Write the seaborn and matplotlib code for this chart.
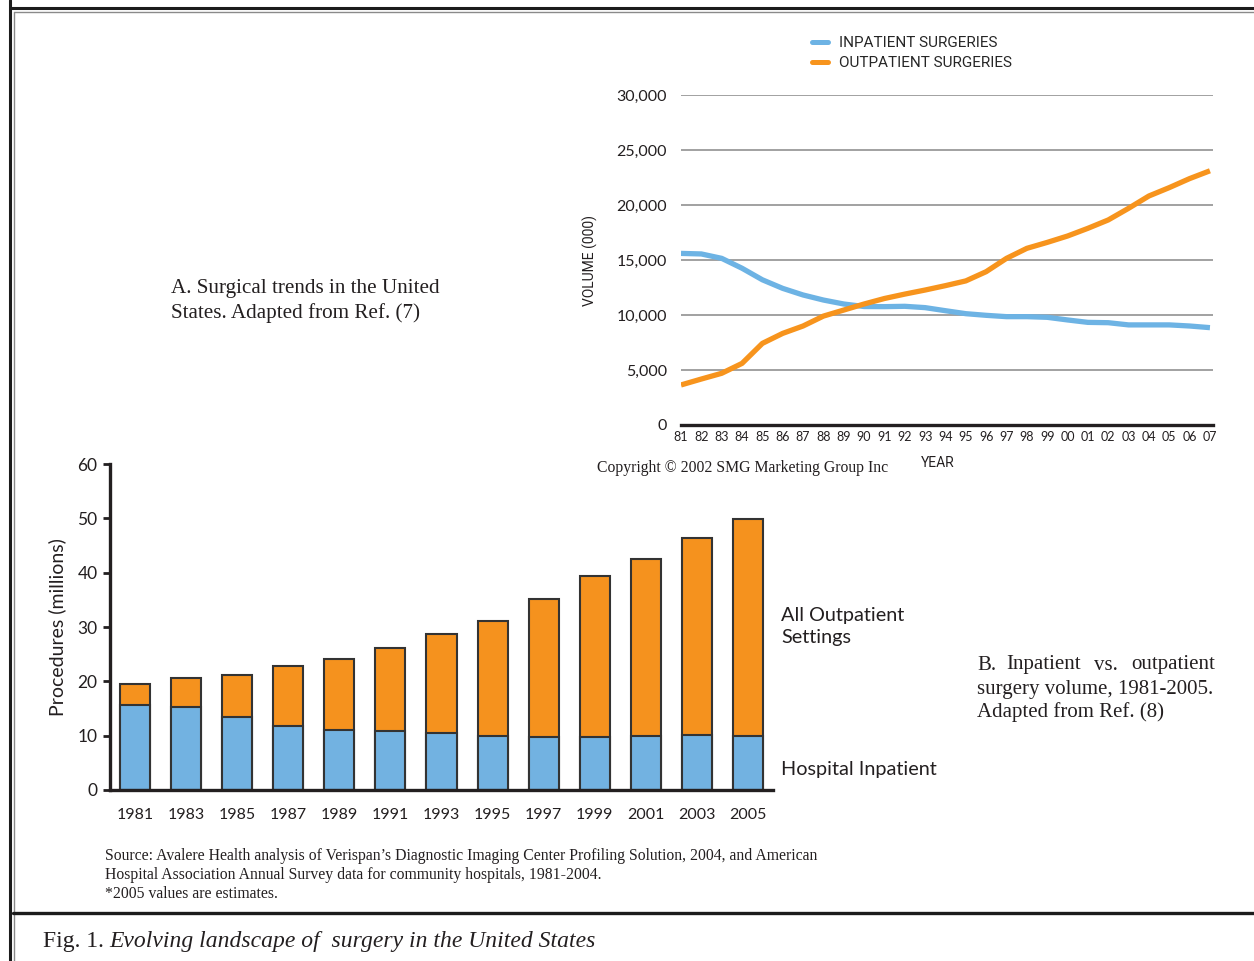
import numpy as np
import pandas as pd
import matplotlib
matplotlib.use("Agg")
import matplotlib.pyplot as plt
from matplotlib.lines import Line2D
import seaborn as sns

# ---- Panel B (top): surgery volume (thousands) by year ----
line_years = list(range(1981, 2008))
line_year_labels = ["81", "82", "83", "84", "85", "86", "87", "88", "89", "90",
                    "91", "92", "93", "94", "95", "96", "97", "98", "99", "00",
                    "01", "02", "03", "04", "05", "06", "07"]
inpatient_volume = [15600, 15550, 15150, 14250, 13200, 12420, 11820, 11360, 11000, 10770,
                    10760, 10790, 10670, 10390, 10120, 9970, 9850, 9850, 9790, 9550,
                    9330, 9300, 9100, 9100, 9100, 9000, 8850]
outpatient_volume = [3640, 4180, 4700, 5600, 7420, 8330, 9000, 9900, 10450, 11000,
                     11500, 11900, 12270, 12670, 13100, 13940, 15150, 16060, 16600, 17180,
                     17880, 18640, 19700, 20820, 21580, 22400, 23110]
line_ticks = [0, 5000, 10000, 15000, 20000, 25000, 30000]

# ---- Panel A (bottom): procedures (millions) by setting ----
bar_years = ["1981", "1983", "1985", "1987", "1989", "1991", "1993",
             "1995", "1997", "1999", "2001", "2003", "2005"]
hospital_inpatient = [15.7, 15.3, 13.4, 11.8, 11.0, 10.8, 10.4, 10.0, 9.8, 9.8, 10.0, 10.1, 10.0]
all_outpatient = [3.9, 5.25, 7.8, 11.1, 13.05, 15.4, 18.4, 21.1, 25.4, 29.5, 32.6, 36.3, 39.9]
bar_ticks = [0, 10, 20, 30, 40, 50, 60]

BLUE_LINE = "#6db3e4"
ORANGE_LINE = "#f7941d"
BLUE_BAR = "#72b2e1"
ORANGE_BAR = "#f5921e"
INK = "#231f20"

sns.set_theme(style="white")
plt.rcParams["font.family"] = ["Lato", "DejaVu Sans"]

W, H = 1254, 961
fig = plt.figure(figsize=(W / 100, H / 100), dpi=100)


def fx(x):
    return x / W


def fy(y):
    return 1 - y / H


def axes_rect(x0, y0, x1, y1):
    return [fx(x0), fy(y1), fx(x1) - fx(x0), fy(y0) - fy(y1)]


narrow = ["Liberation Sans Narrow", "Roboto", "DejaVu Sans"]
serif = ["Liberation Serif", "DejaVu Serif"]

# ---------------- line chart ----------------
axL = fig.add_axes(axes_rect(681, 95, 1213, 425))
df_line = pd.DataFrame({
    "year": line_years * 2,
    "volume": inpatient_volume + outpatient_volume,
    "series": ["INPATIENT SURGERIES"] * len(line_years) + ["OUTPATIENT SURGERIES"] * len(line_years),
})
for t in line_ticks[1:]:
    axL.axhline(t, color="#9a9a9a", lw=1.3, zorder=0)
sns.lineplot(data=df_line, x="year", y="volume", hue="series",
             palette={"INPATIENT SURGERIES": BLUE_LINE, "OUTPATIENT SURGERIES": ORANGE_LINE},
             lw=3.8, ax=axL, legend=False, sort=False,
             solid_joinstyle="round", solid_capstyle="butt")
axL.set_xlim(1981, 2007.15)
axL.set_ylim(0, 30000)
for s in ["top", "right", "left"]:
    axL.spines[s].set_visible(False)
axL.spines["bottom"].set_color(INK)
axL.spines["bottom"].set_linewidth(2.4)
axL.set_yticks(line_ticks)
axL.set_yticklabels([f"{v:,}" for v in line_ticks], fontsize=11.5, color=INK)
axL.set_xticks(line_years)
axL.set_xticklabels(line_year_labels, fontsize=9, color=INK)
axL.tick_params(axis="y", length=0, pad=10)
axL.tick_params(axis="x", length=0, pad=4)
axL.set_ylabel("VOLUME (000)", fontsize=10, family=narrow, color=INK)
axL.yaxis.set_label_coords((598 - 681) / 532, 0.5)
axL.set_xlabel("")
fig.text(fx(938), fy(463), "YEAR", fontsize=10, family=narrow, color=INK, ha="center", va="center")

handles = [Line2D([], [], color=BLUE_LINE, lw=3.6), Line2D([], [], color=ORANGE_LINE, lw=3.6)]
fig.legend(handles, ["INPATIENT SURGERIES", "OUTPATIENT SURGERIES"],
           loc="upper left", bbox_to_anchor=(fx(812), fy(36)), frameon=False,
           handlelength=1.05, handletextpad=0.7, labelspacing=0.42, borderpad=0,
           borderaxespad=0, prop={"family": narrow, "size": 11})

fig.text(fx(597), fy(468), "Copyright \u00a9 2002 SMG Marketing Group Inc",
         family=serif, fontsize=11.3, color=INK, ha="left", va="center")

# ---------------- stacked bar chart ----------------
axB = fig.add_axes(axes_rect(110, 464, 773, 790))
df_bar = pd.DataFrame({
    "year": bar_years,
    "inpatient": hospital_inpatient,
    "outpatient": all_outpatient,
})
df_bar["total"] = df_bar["inpatient"] + df_bar["outpatient"]
sns.barplot(data=df_bar, x="year", y="total", color=ORANGE_BAR, saturation=1,
            width=0.59, edgecolor="#333333", linewidth=1.5, ax=axB)
sns.barplot(data=df_bar, x="year", y="inpatient", color=BLUE_BAR, saturation=1,
            width=0.59, edgecolor="#333333", linewidth=1.5, ax=axB)
axB.set_ylim(0, 60)
axB.set_xlim(-0.49, 12.49)
for s in ["top", "right"]:
    axB.spines[s].set_visible(False)
for s in ["left", "bottom"]:
    axB.spines[s].set_color(INK)
    axB.spines[s].set_linewidth(2.4)
axB.set_yticks(bar_ticks)
axB.set_yticklabels([str(v) for v in bar_ticks], fontsize=12.5, color=INK)
axB.tick_params(axis="y", left=True, length=5, width=2, color=INK, pad=4, direction="out")
axB.tick_params(axis="x", length=0, pad=13, labelsize=11.5, labelcolor=INK)
axB.set_xlabel("")
axB.set_ylabel("Procedures (millions)", fontsize=14, color=INK)
axB.yaxis.set_label_coords((66 - 110) / 663, 0.5)

fig.text(fx(781), fy(626.5), "All Outpatient\nSettings", fontsize=14.3, color=INK,
         ha="left", va="center", linespacing=1.38)
fig.text(fx(781), fy(770), "Hospital Inpatient", fontsize=14.3, color=INK,
         ha="left", va="center")

# ---------------- panel captions ----------------
fig.text(fx(171), fy(301), "A. Surgical trends in the United\nStates. Adapted from Ref. (7)",
         family=serif, fontsize=15.2, color=INK, ha="left", va="center", linespacing=1.35)

capB_y = fy(665)
for word, xpos, ha in [("B.", 977, "left"), ("Inpatient", 1006, "left"),
                       ("vs.", 1094, "left"), ("outpatient", 1215, "right")]:
    fig.text(fx(xpos), capB_y, word, family=serif, fontsize=15, color=INK, ha=ha, va="center")
fig.text(fx(977), fy(701), "surgery volume, 1981-2005.\nAdapted from Ref. (8)",
         family=serif, fontsize=15, color=INK, ha="left", va="center", linespacing=1.2)

fig.text(fx(105), fy(875),
         "Source: Avalere Health analysis of Verispan\u2019s Diagnostic Imaging Center Profiling Solution, 2004, and American\n"
         "Hospital Association Annual Survey data for community hospitals, 1981-2004.\n"
         "*2005 values are estimates.",
         family=serif, fontsize=11.3, color=INK, ha="left", va="center", linespacing=1.25)

fig.text(fx(43), fy(941), "Fig. 1.", family=serif, fontsize=17, color=INK, ha="left", va="center")
fig.text(fx(109), fy(941), "Evolving landscape of  surgery in the United States",
         family=serif, style="italic", fontsize=17, color=INK, ha="left", va="center")

# ---------------- frame ----------------
frame = [
    ((10, 10), (0, 961), "#1c1c1c", 2.2),
    ((10, 1254), (8, 8), "#1c1c1c", 2.2),
    ((13.5, 13.5), (11.5, 961), "#8a8a8a", 1.0),
    ((13.5, 1254), (11.5, 11.5), "#8a8a8a", 1.0),
    ((13, 1254), (913, 913), "#1c1c1c", 2.4),
]
for xs, ys, col, lw in frame:
    fig.add_artist(Line2D([fx(xs[0]), fx(xs[1])], [fy(ys[0]), fy(ys[1])],
                          transform=fig.transFigure, color=col, lw=lw))

fig.savefig("out.png", dpi=100, facecolor="white")
